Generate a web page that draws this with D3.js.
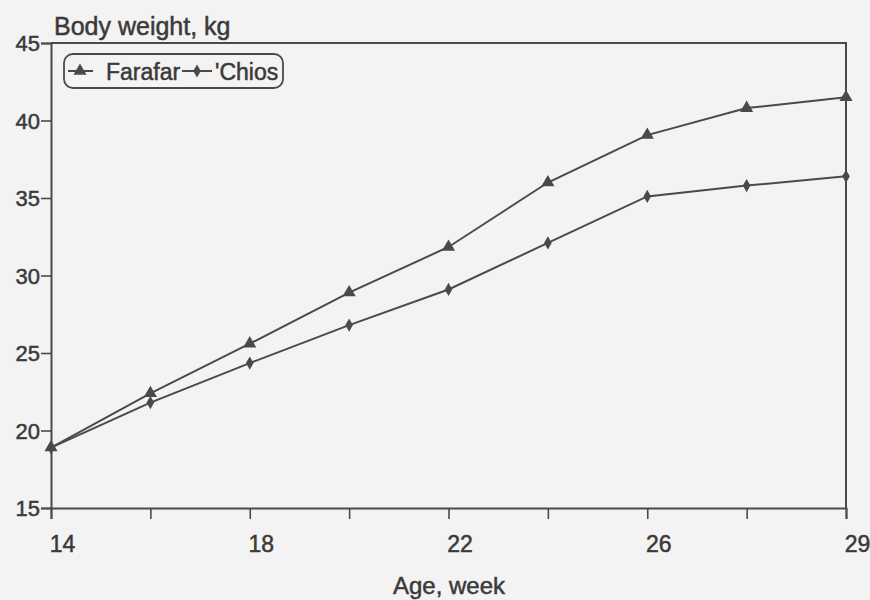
<!DOCTYPE html>
<html>
<head>
<meta charset="utf-8">
<script src="https://cdn.jsdelivr.net/npm/d3@7/dist/d3.min.js"></script>
<style>
  html, body { margin: 0; padding: 0; background: #f3f3f3; }
  svg { display: block; }
  svg text { font-family: "Liberation Sans", Arial, sans-serif; }
</style>
</head>
<body>
<svg id="chart" width="870" height="600"></svg>
<script>
// ---- data ----
const ages = ["14", "16", "18", "20", "22", "24", "26", "28", "29"];
const ageTickLabels = ["14", "", "18", "", "22", "", "26", "", "29"];
const farafar = [18.9, 22.4, 25.6, 28.9, 31.84, 36.0, 39.06, 40.8, 41.5];
const chios = [18.9, 21.8, 24.35, 26.8, 29.1, 32.1, 35.1, 35.8, 36.4];
const yTicks = [15, 20, 25, 30, 35, 40, 45];
const seriesNames = ["Farafar", "'Chios"];

// ---- layout ----
const ink = "#4a4a4a";
const textInk = "#3a3a3a";
const mLeft = 51, mRight = 846, mTop = 43, mBottom = 508;

const svg = d3.select("#chart");
svg.append("rect").attr("width", 870).attr("height", 600).attr("fill", "#f3f3f3");

const x = d3.scalePoint().domain(ages).range([mLeft, mRight]);
const y = d3.scaleLinear().domain([15, 45]).range([mBottom, mTop]);

function styleText(sel, size) {
  sel.attr("font-family", "'Liberation Sans', Arial, sans-serif")
     .attr("font-size", size).attr("fill", textInk)
     .attr("stroke", textInk).attr("stroke-width", 0.5);
}

// frame (top and right)
svg.append("path")
  .attr("d", `M${mLeft},${mTop}H${mRight}V${mBottom}`)
  .attr("fill", "none").attr("stroke", ink).attr("stroke-width", 2);

// x axis
const xAxis = d3.axisBottom(x)
  .tickSize(11)
  .tickFormat((d, i) => ageTickLabels[i]);
const gx = svg.append("g").attr("transform", `translate(0,${mBottom})`).call(xAxis);
gx.select(".domain").attr("stroke", ink).attr("stroke-width", 2);
gx.selectAll(".tick line").attr("stroke", ink).attr("stroke-width", 1.6);
gx.selectAll(".tick text").call(styleText, 23)
  .attr("dx", 11).attr("y", 28).attr("dy", "0.71em");

// y axis
const yAxis = d3.axisLeft(y).tickValues(yTicks).tickSize(10).tickFormat(d3.format("d"));
const gy = svg.append("g").attr("transform", `translate(${mLeft},0)`).call(yAxis);
gy.select(".domain").attr("stroke", ink).attr("stroke-width", 2);
gy.selectAll(".tick line").attr("stroke", ink).attr("stroke-width", 1.6);
gy.selectAll(".tick text").call(styleText, 22)
  .attr("x", -11).attr("dy", "0.36em");

// axis titles
svg.append("text").attr("x", 54).attr("y", 35).call(styleText, 25).text("Body weight, kg");
svg.append("text").attr("x", 449).attr("y", 594).attr("text-anchor", "middle")
  .call(styleText, 24).text("Age, week");

// lines
const line = d3.line().x((d, i) => x(ages[i])).y(d => y(d));
[farafar, chios].forEach(s => {
  svg.append("path").datum(s).attr("d", line)
    .attr("fill", "none").attr("stroke", ink).attr("stroke-width", 2);
});

const tri = d3.symbol().type(d3.symbolTriangle).size(75);
const dia = d3.symbol().type(d3.symbolDiamond).size(50);

svg.append("g").selectAll("path").data(farafar).join("path")
  .attr("transform", (d, i) => `translate(${x(ages[i])},${y(d)})`)
  .attr("d", tri).attr("fill", ink);
svg.append("g").selectAll("path").data(chios).join("path")
  .attr("transform", (d, i) => `translate(${x(ages[i])},${y(d)})`)
  .attr("d", dia).attr("fill", ink);

// legend
const lg = svg.append("g");
lg.append("rect").attr("x", 64).attr("y", 54).attr("width", 219).attr("height", 34)
  .attr("rx", 9).attr("fill", "none").attr("stroke", ink).attr("stroke-width", 1.8);
lg.append("line").attr("x1", 68).attr("x2", 93).attr("y1", 71).attr("y2", 71)
  .attr("stroke", ink).attr("stroke-width", 2);
lg.append("path").attr("transform", "translate(80,71)").attr("d", tri).attr("fill", ink);
lg.append("text").attr("x", 106).attr("y", 80).call(styleText, 23).text(seriesNames[0]);
lg.append("line").attr("x1", 182).attr("x2", 212).attr("y1", 71).attr("y2", 71)
  .attr("stroke", ink).attr("stroke-width", 2);
lg.append("path").attr("transform", "translate(197,71)").attr("d", dia).attr("fill", ink);
lg.append("text").attr("x", 215).attr("y", 80).call(styleText, 23).text(seriesNames[1]);
</script>
</body>
</html>
